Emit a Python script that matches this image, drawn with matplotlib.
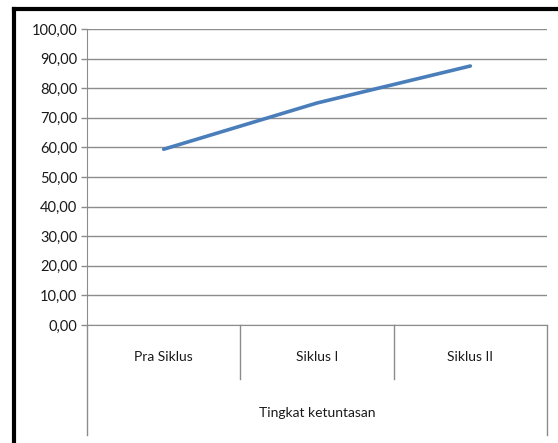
import matplotlib
matplotlib.use("Agg")
from matplotlib import pyplot as plt
from matplotlib.lines import Line2D
from matplotlib.ticker import FuncFormatter
import matplotlib.transforms as mtransforms

plt.rcParams['font.family'] = ['Lato', 'DejaVu Sans']

kategori = ['Pra Siklus', 'Siklus I', 'Siklus II']
ketuntasan = [59.38, 75.00, 87.50]
judul_grup = 'Tingkat ketuntasan'
y_ticks = [0, 10, 20, 30, 40, 50, 60, 70, 80, 90, 100]

W, H = 558, 443
fig = plt.figure(figsize=(W / 100, H / 100), dpi=100)
ax = fig.add_axes([87 / W, 1 - 325 / H, 460 / W, 296 / H])

x = list(range(len(kategori)))
ax.plot(x, ketuntasan, color='#4a7ebb', linewidth=2.6, solid_capstyle='round', zorder=3)

ax.set_xlim(-0.5, len(kategori) - 0.5)
ax.set_ylim(0, 100)
ax.set_yticks(y_ticks)
ax.yaxis.set_major_formatter(FuncFormatter(lambda v, p: f'{v:.2f}'.replace('.', ',')))
ax.grid(axis='y', color='#8c8c8c', linewidth=1.0)
ax.set_axisbelow(True)
ax.set_xticks([])
ax.tick_params(axis='y', length=4, width=1, color='#8c8c8c', labelsize=10.5, pad=3, labelcolor='#1a1a1a')

for s in ['top', 'right']:
    ax.spines[s].set_visible(False)
ax.spines['left'].set_color('#8c8c8c')
ax.spines['bottom'].set_color('#8c8c8c')

# multi-level category axis
trans = mtransforms.blended_transform_factory(ax.transData, ax.transAxes)
pendek = -(379 - 325) / 296
panjang = -(435 - 325) / 296
for i in range(len(kategori) + 1):
    xb = i - 0.5
    ujung = panjang if i in (0, len(kategori)) else pendek
    ax.plot([xb, xb], [0, ujung], color='#8c8c8c', linewidth=1.0, transform=trans, clip_on=False)

for i, lab in enumerate(kategori):
    ax.text(i, -(357 - 325) / 296, lab, transform=trans, ha='center', va='center',
            fontsize=10, color='#1a1a1a')
ax.text((len(kategori) - 1) / 2, -(413 - 325) / 296, judul_grup, transform=trans,
        ha='center', va='center', fontsize=10, color='#1a1a1a')

# chart border (left and top visible)
fig.add_artist(Line2D([14 / W, 14 / W], [0, 1 - 8.5 / H], color='black', linewidth=3))
fig.add_artist(Line2D([14 / W, 1], [1 - 8.5 / H, 1 - 8.5 / H], color='black', linewidth=3))

fig.savefig('out.png', dpi=100)
